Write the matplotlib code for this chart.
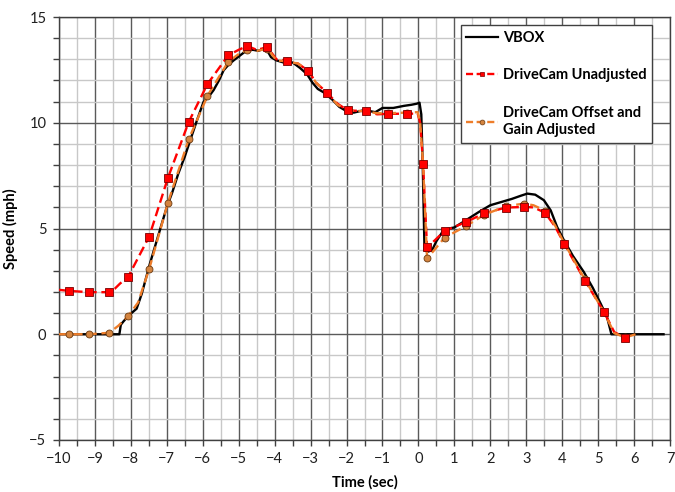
import numpy as np
import matplotlib.pyplot as plt
from matplotlib.lines import Line2D
from matplotlib.ticker import MultipleLocator

plt.rcParams['font.family'] = ['Lato', 'DejaVu Sans']

# VBOX reference speed (mph) vs time (sec)
vbox_t = [-10.0, -8.32, -8.28, -8.2, -8.05, -7.84, -7.7, -7.47, -7.25, -7.0, -6.85, -6.68,
          -6.5, -6.35, -6.16, -5.98, -5.85, -5.7, -5.55, -5.42, -5.28, -5.14, -4.95, -4.77,
          -4.6, -4.45, -4.25, -4.1, -3.95, -3.75, -3.5, -3.3, -3.1, -2.95, -2.8, -2.6, -2.4,
          -2.2, -2.0, -1.8, -1.5, -1.2, -1.0, -0.7, -0.4, -0.2, -0.05, 0.03, 0.08, 0.12,
          0.17, 0.25, 0.38, 0.5, 0.71, 1.0, 1.33, 1.68, 2.0, 2.3, 2.6, 2.85, 3.03, 3.25,
          3.49, 3.68, 3.86, 4.05, 4.3, 4.6, 4.85, 5.07, 5.25, 5.37, 6.82]
vbox_v = [0.0, 0.0, 0.45, 0.62, 0.9, 1.21, 1.9, 3.34, 4.6, 6.02, 6.7, 7.6,
          8.4, 9.17, 10.12, 10.98, 11.2, 11.54, 12.0, 12.48, 12.75, 12.95, 13.2, 13.43,
          13.45, 13.4, 13.55, 13.1, 12.95, 12.85, 12.85, 12.6, 12.3, 11.9, 11.6, 11.4, 11.1,
          10.75, 10.55, 10.48, 10.6, 10.5, 10.7, 10.7, 10.8, 10.85, 10.9, 10.95, 10.4, 8.0,
          3.97, 3.9, 3.97, 4.4, 4.95, 5.05, 5.4, 5.78, 6.1, 6.25, 6.4, 6.55, 6.65, 6.6,
          6.34, 5.86, 5.07, 4.44, 3.7, 2.95, 2.2, 1.45, 0.8, 0.0, 0.0]

# DriveCam unadjusted
unadj_t = [-10.0, -9.71, -9.17, -8.6, -8.45, -8.3, -8.08, -7.49, -6.97, -6.39, -5.87, -5.29,
           -5.0, -4.76, -4.5, -4.2, -3.95, -3.66, -3.35, -3.06, -2.85, -2.55, -2.25, -1.97,
           -1.45, -1.15, -0.86, -0.33, -0.02, 0.05, 0.13, 0.24, 0.4, 0.73, 1.33, 1.83, 2.43,
           2.94, 3.2, 3.52, 3.8, 4.06, 4.63, 5.16, 5.45, 5.75, 5.9]
unadj_v = [2.1, 2.05, 1.99, 1.99, 2.15, 2.4, 2.7, 4.62, 7.39, 10.04, 11.83, 13.19,
           13.45, 13.63, 13.45, 13.57, 13.0, 12.94, 12.8, 12.45, 11.9, 11.43, 10.9, 10.59,
           10.54, 10.4, 10.42, 10.43, 10.43, 10.0, 8.04, 4.13, 4.35, 4.89, 5.31, 5.72, 5.99,
           6.02, 6.0, 5.75, 5.1, 4.27, 2.54, 1.07, 0.1, -0.16, -0.05]
unadj_marks = [1, 2, 3, 6, 7, 8, 9, 10, 11, 13, 15, 17, 19, 21, 23, 24, 26, 27, 30, 31,
               33, 34, 35, 36, 37, 39, 41, 42, 43, 45]

# DriveCam offset and gain adjusted
adj_t = [-10.0, -9.71, -9.17, -8.6, -8.35, -8.08, -7.8, -7.49, -6.97, -6.39, -5.87, -5.29,
         -5.0, -4.76, -4.5, -4.2, -3.95, -3.66, -3.35, -3.06, -2.85, -2.55, -2.25, -1.97,
         -1.45, -1.15, -0.86, -0.33, -0.02, 0.05, 0.13, 0.24, 0.4, 0.73, 1.33, 1.83, 2.43,
         2.94, 3.2, 3.52, 3.8, 4.06, 4.63, 5.16, 5.45, 5.75, 6.05]
adj_v = [0.0, 0.0, 0.0, 0.07, 0.4, 0.85, 1.5, 3.09, 6.21, 9.22, 11.27, 12.89,
         13.25, 13.45, 13.4, 13.5, 12.95, 12.9, 12.8, 12.45, 11.9, 11.43, 10.85, 10.59,
         10.54, 10.45, 10.45, 10.48, 10.5, 10.0, 8.04, 3.62, 3.9, 4.57, 5.12, 5.65, 6.05,
         6.18, 6.1, 5.85, 5.15, 4.3, 2.6, 1.05, 0.05, -0.15, 0.0]
adj_marks = [1, 2, 3, 5, 7, 8, 9, 10, 11, 13, 15, 17, 19, 21, 23, 24, 26, 27, 30, 31,
             33, 34, 35, 36, 37, 39, 41, 42, 43, 45]

red = '#FF0000'
orange = '#EE7D2A'

fig = plt.figure(figsize=(6.75, 4.92), dpi=100)
ax = fig.add_axes([0.0874, 0.1057, 0.9052, 0.8597])

ax.plot(vbox_t, vbox_v, color='black', lw=1.7, zorder=3)
ax.plot(unadj_t, unadj_v, color=red, lw=1.7, dashes=(4, 2), zorder=4)
ax.plot(adj_t, adj_v, color=orange, lw=1.7, dashes=(4, 2), zorder=5,
        marker='o', markevery=adj_marks, ms=5, mfc='#D4843F', mec='#6B3A10', mew=0.6)
ax.plot(unadj_t, unadj_v, ls='none', marker='s', markevery=unadj_marks, ms=5.5,
        mfc=red, mec='#7A0000', mew=0.6, zorder=6)

ax.set_xlim(-10, 7)
ax.set_ylim(-5, 15)
ax.xaxis.set_major_locator(MultipleLocator(1))
ax.xaxis.set_minor_locator(MultipleLocator(0.5))
ax.yaxis.set_major_locator(MultipleLocator(5))
ax.yaxis.set_minor_locator(MultipleLocator(1))
ax.grid(which='major', color='#5A5A5A', lw=1.0, zorder=1)
ax.grid(which='minor', color='#C8C8C8', lw=1.0, zorder=0)
ax.set_axisbelow(True)
ax.tick_params(which='both', direction='out', length=4, width=1, color='#404040',
               labelsize=10.5, labelcolor='#202020', pad=5)
for s in ax.spines.values():
    s.set_color('#404040')
    s.set_linewidth(1.0)

ax.set_xlabel('Time (sec)', fontsize=10.5, fontweight='bold', labelpad=6)
ax.set_ylabel('Speed (mph)', fontsize=10.5, fontweight='bold', labelpad=8)

handles = [
    Line2D([], [], color='black', lw=1.6),
    Line2D([], [], color=red, lw=1.7, dashes=(3, 1.5), marker='s', ms=3.5,
           mfc=red, mec='#7A0000', mew=0.5),
    Line2D([], [], color=orange, lw=1.7, dashes=(3, 1.5), marker='o', ms=3.5,
           mfc='#D4843F', mec='#6B3A10', mew=0.5),
]
labels = ['VBOX', 'DriveCam Unadjusted', 'DriveCam Offset and\nGain Adjusted']
leg = ax.legend(handles, labels, loc='upper right', bbox_to_anchor=(0.971, 0.981),
                borderaxespad=0, fancybox=False, framealpha=1, edgecolor='#404040',
                handlelength=2.2, handletextpad=0.3, labelspacing=1.6,
                borderpad=0.4, prop={'weight': 'bold', 'size': 10.5})
leg.get_frame().set_linewidth(1.0)
leg.set_zorder(10)
for txt in leg.get_texts():
    txt.set_linespacing(1.3)

fig.savefig('out.png', dpi=100)
